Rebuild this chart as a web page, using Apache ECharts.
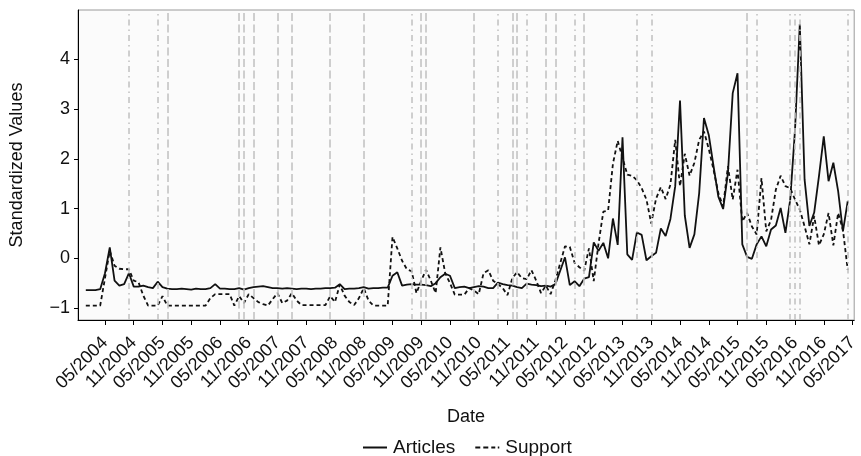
<!DOCTYPE html>
<html>
<head>
<meta charset="utf-8">
<script src="https://cdn.jsdelivr.net/npm/echarts@6/dist/echarts.min.js"></script>
<style>
html,body{margin:0;padding:0;background:#fff;}
#chart{width:861px;height:456px;}
</style>
</head>
<body>
<div id="chart"></div>
<script>
// Monthly series, starting 01/2004 (index 0) through 04/2017 (index 159)
var startYear = 2004;
var articles = [
-0.64,-0.64,-0.64,-0.62,-0.30,0.22,-0.45,-0.55,-0.52,-0.30,-0.57,-0.57,
-0.55,-0.58,-0.60,-0.47,-0.58,-0.61,-0.62,-0.62,-0.61,-0.62,-0.63,-0.61,
-0.62,-0.62,-0.60,-0.52,-0.61,-0.61,-0.62,-0.62,-0.60,-0.63,-0.60,-0.58,
-0.57,-0.56,-0.58,-0.60,-0.60,-0.61,-0.60,-0.61,-0.62,-0.61,-0.61,-0.62,
-0.61,-0.61,-0.60,-0.60,-0.59,-0.52,-0.62,-0.61,-0.61,-0.60,-0.58,-0.61,
-0.60,-0.60,-0.59,-0.59,-0.35,-0.28,-0.55,-0.53,-0.52,-0.53,-0.53,-0.54,
-0.56,-0.50,-0.38,-0.31,-0.35,-0.60,-0.58,-0.57,-0.60,-0.58,-0.56,-0.57,
-0.60,-0.60,-0.49,-0.52,-0.54,-0.55,-0.58,-0.60,-0.51,-0.53,-0.54,-0.56,
-0.55,-0.57,-0.52,-0.25,0.02,-0.54,-0.46,-0.56,-0.41,-0.38,0.32,0.15,
0.31,0.00,0.80,0.27,2.43,0.08,-0.03,0.52,0.47,-0.04,0.04,0.11,
0.60,0.45,0.79,1.45,3.17,0.86,0.21,0.48,1.31,2.82,2.48,1.85,
1.24,0.99,1.71,3.32,3.72,0.28,0.03,-0.01,0.28,0.44,0.24,0.58,
0.66,1.01,0.51,1.18,2.58,4.71,1.58,0.65,0.92,1.65,2.45,1.55,
1.92,1.35,0.54,1.15
];
var support = [
-0.95,-0.95,-0.95,-0.95,-0.40,0.15,-0.15,-0.21,-0.22,-0.22,-0.45,-0.48,
-0.75,-0.95,-0.95,-0.95,-0.76,-0.95,-0.95,-0.95,-0.95,-0.95,-0.95,-0.95,
-0.95,-0.95,-0.80,-0.72,-0.72,-0.72,-0.72,-0.95,-0.76,-0.90,-0.72,-0.80,
-0.88,-0.92,-0.95,-0.82,-0.70,-0.90,-0.85,-0.70,-0.85,-0.94,-0.94,-0.94,
-0.94,-0.94,-0.94,-0.76,-0.88,-0.53,-0.75,-0.88,-0.94,-0.80,-0.60,-0.85,
-0.95,-0.95,-0.95,-0.95,0.43,0.20,-0.05,-0.22,-0.26,-0.70,-0.45,-0.23,
-0.45,-0.70,0.22,-0.30,-0.50,-0.73,-0.73,-0.73,-0.60,-0.65,-0.72,-0.30,
-0.24,-0.45,-0.52,-0.60,-0.74,-0.40,-0.28,-0.40,-0.42,-0.24,-0.45,-0.70,
-0.55,-0.72,-0.44,-0.10,0.24,0.23,-0.09,-0.18,-0.25,0.20,-0.46,0.30,
0.94,0.96,1.90,2.36,2.02,1.68,1.66,1.57,1.41,1.18,0.70,1.20,
1.43,1.19,1.48,2.38,1.45,2.10,1.66,1.92,2.38,2.55,2.20,1.78,
1.31,1.04,1.85,1.18,1.78,0.74,0.91,0.64,0.48,1.61,0.54,0.77,
1.38,1.66,1.45,1.41,1.18,0.98,0.64,0.28,0.85,0.26,0.48,0.91,
0.26,0.91,0.57,-0.23
];
var xTickLabels = ['05/2004','11/2004','05/2005','11/2005','05/2006','11/2006','05/2007','11/2007',
'05/2008','11/2008','05/2009','11/2009','05/2010','11/2010','05/2011','11/2011','05/2012','11/2012',
'05/2013','11/2013','05/2014','11/2014','05/2015','11/2015','05/2016','11/2016','05/2017'];
var yTicks = [-1, 0, 1, 2, 3, 4];
var dashedEvents = ['06/2005','09/2006','10/2006','12/2006','05/2007','08/2007','04/2008','11/2008',
'11/2009','12/2009','10/2010','06/2011','07/2011','01/2012','03/2012','09/2012','07/2015'];
var dotdashEvents = ['10/2004','04/2005','09/2009','03/2011','09/2011','07/2012','08/2013','11/2013',
'09/2015','04/2016','05/2016','06/2016','04/2017'];

function monthIndex(s){ var p = s.split('/'); return (parseInt(p[1],10)-startYear)*12 + parseInt(p[0],10)-1; }
var tickPos = xTickLabels.map(monthIndex);
var labelByPos = {}; xTickLabels.forEach(function(l,i){ labelByPos[tickPos[i]] = l; });
var artPairs = articles.map(function(v,i){ return [i, v]; });
var supPairs = support.map(function(v,i){ return [i, v]; });

var FONT = 'Liberation Sans, Arial, sans-serif';
var TXT = '#111';
var evLines = [];
dashedEvents.forEach(function(s){ evLines.push({xAxis: monthIndex(s), lineStyle:{type:[8,3.5]}}); });
dotdashEvents.forEach(function(s){ evLines.push({xAxis: monthIndex(s), lineStyle:{type:[6,4,1.5,4]}}); });

var solidIcon = 'path://M0,0H24V2H0Z';
var dashIcon = 'path://M0,0H5V2H0Z M8,0H13V2H8Z M16,0H20V2H16Z M22.5,0H24V2H22.5Z';

var chart = echarts.init(document.getElementById('chart'), null, {renderer:'canvas'});
chart.setOption({
  animation:false,
  backgroundColor:'#ffffff',
  textStyle:{fontFamily:FONT},
  grid:{left:77, right:-1, top:10, bottom:136, show:true, backgroundColor:'#fbfbfb', borderColor:'#9a9a9a', borderWidth:1},
  legend:{
    data:[{name:'Articles', icon:solidIcon}, {name:'Support', icon:dashIcon}],
    left:358, top:433, itemWidth:24, itemHeight:2, itemGap:20,
    textStyle:{fontSize:19, color:TXT, fontFamily:FONT, padding:[0,0,0,1]}
  },
  xAxis:{
    type:'value', min:-1.63, max:160.35,
    name:'Date', nameLocation:'middle', nameGap:88,
    nameTextStyle:{fontSize:18, color:TXT, fontFamily:FONT},
    axisLine:{show:true, onZero:false, lineStyle:{color:'#000', width:1}},
    axisTick:{show:true, length:5, customValues:tickPos, lineStyle:{color:'#000', width:1}},
    axisLabel:{customValues:tickPos, formatter:function(v){ return labelByPos[v] || ''; },
      rotate:45, margin:20, fontSize:18, color:TXT, fontFamily:FONT},
    splitLine:{show:false}
  },
  yAxis:{
    type:'value', min:-1.24, max:4.99,
    name:'Standardized Values', nameLocation:'middle', nameGap:52,
    nameTextStyle:{fontSize:18, color:TXT, fontFamily:FONT},
    axisLine:{show:true, onZero:false, lineStyle:{color:'#000', width:1}},
    axisTick:{show:true, length:4, customValues:yTicks, lineStyle:{color:'#000', width:1}},
    axisLabel:{customValues:yTicks, formatter:function(v){ return String(v).replace('-', '\u2212'); },
      margin:8, fontSize:18, color:TXT, fontFamily:FONT},
    splitLine:{show:false}
  },
  series:[
    {name:'events', type:'line', data:artPairs, showSymbol:false, symbol:'none', silent:true, z:1,
      lineStyle:{opacity:0},
      markLine:{symbol:['none','none'], silent:true, label:{show:false},
        lineStyle:{color:'#c4c4c4', width:1.6}, data:evLines}},
    {name:'Articles', type:'line', data:artPairs, symbol:'none', z:3,
      lineStyle:{color:'#111', width:1.8, type:'solid'}, itemStyle:{color:'#111'}},
    {name:'Support', type:'line', data:supPairs, symbol:'none', z:4,
      lineStyle:{color:'#111', width:1.8, type:[4,3]}, itemStyle:{color:'#111'}}
  ]
});
</script>
</body>
</html>
